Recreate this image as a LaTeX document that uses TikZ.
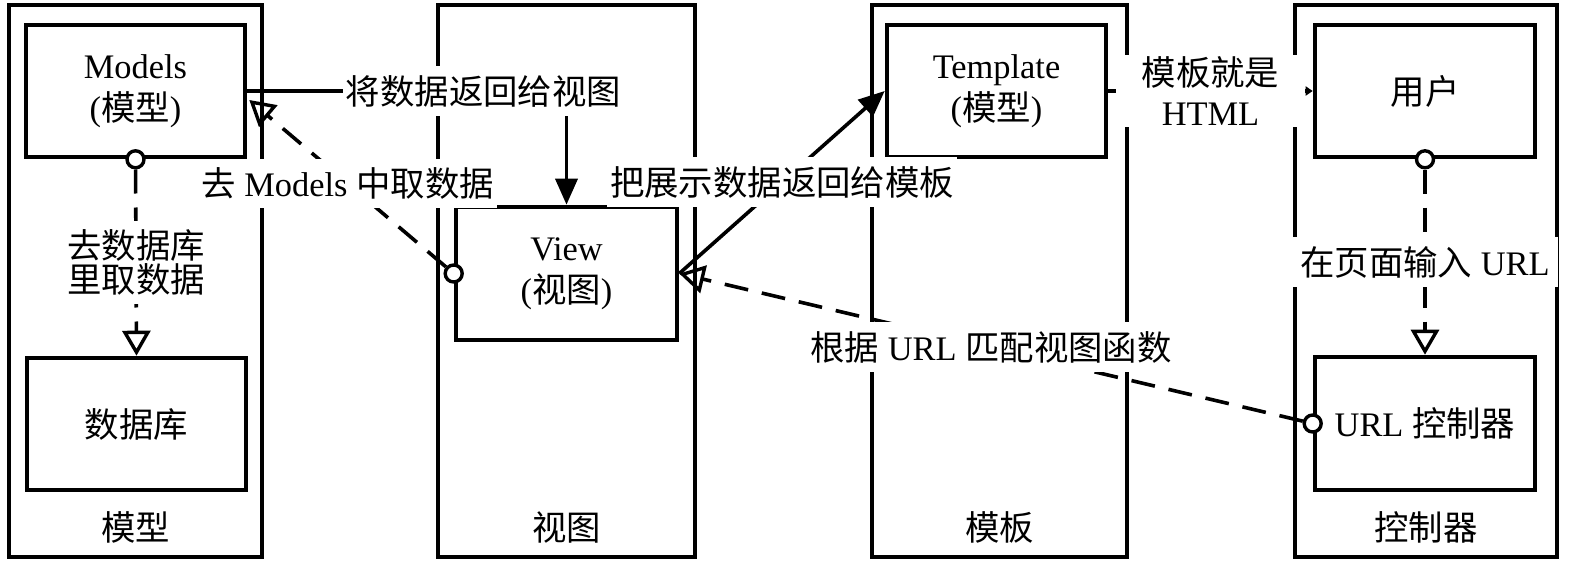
\documentclass[tikz,border=0pt]{standalone}
\usepackage{fontspec}
\setmainfont{Liberation Serif}
\newfontfamily\cjk{Noto Sans CJK SC}
\usetikzlibrary{arrows.meta,calc}
\newcommand{\zh}[1]{{\cjk #1}}
\newcommand{\fs}{\fontsize{17.2pt}{21pt}\selectfont}
\newcommand{\fstight}{\fontsize{17.2pt}{17pt}\selectfont}
\newcommand{\fsmid}{\fontsize{17.2pt}{20pt}\selectfont}
\begin{document}
\begin{tikzpicture}[x=0.5pt,y=-0.5pt,
  lane/.style={draw, line width=2.3pt, inner sep=0pt},
  box/.style={draw, line width=2.3pt, fill=white, inner sep=0pt, align=center, font=\fs},
  port/.style={circle, draw, line width=1.7pt, fill=white, minimum size=8.5pt, inner sep=0pt},
  conn/.style={line width=1.8pt},
  dconn/.style={conn, dash pattern=on 12pt off 7pt},
  lbl/.style={fill=white, inner xsep=1.5pt, inner ysep=4.5pt, align=center, font=\fs},
  filltip/.style={-{Triangle[length=13pt,width=11pt]}},
  opentip/.style={-{Triangle[open,length=12.5pt,width=14pt,line width=1.7pt]}},
  smalltip/.style={-{Triangle[length=3.5pt,width=4.5pt]}}
]
\useasboundingbox (0,0) rectangle (1575,562);
% lanes
\node[lane, minimum width=126.5pt, minimum height=276pt] (lm) at (135.5,281) {};
\node[lane, minimum width=128.5pt, minimum height=276pt] (lv) at (566.5,281) {};
\node[lane, minimum width=127.5pt, minimum height=276pt] (lt) at (999.5,281) {};
\node[lane, minimum width=131pt, minimum height=276pt] (lc) at (1426,281) {};
\node[font=\fs] (tm) at (135.5,527) {\zh{模型}};
\node[font=\fs] (tv) at (566.5,527) {\zh{视图}};
\node[font=\fs] (tt) at (999.5,527) {\zh{模板}};
\node[font=\fs] (tc) at (1426,527) {\zh{控制器}};
% boxes
\node[box, minimum width=109.5pt, minimum height=66pt] (models) at (135.5,91) {Models\\(\zh{模型})};
\node[box, minimum width=109.5pt, minimum height=66pt] (db) at (136.5,424) {\zh{数据库}};
\node[box, minimum width=110.5pt, minimum height=66.5pt] (view) at (566.5,273.5) {View\\(\zh{视图})};
\node[box, minimum width=109.5pt, minimum height=66pt] (template) at (996.5,91) {Template\\(\zh{模型})};
\node[box, minimum width=110pt, minimum height=66pt] (user) at (1425,91) {\zh{用户}};
\node[box, minimum width=110pt, minimum height=66.5pt] (url) at (1425,423.5) {URL \zh{控制器}};
% ports
\node[port] (pmod) at (models.south) {};
\node[port] (pview) at (view.west) {};
\node[port] (pusr) at (user.south) {};
\node[port] (purl) at (url.west) {};
% connectors
\draw[conn, filltip] (models.east) -| node[lbl, pos=0.37] (l1) {\zh{将数据返回给视图}} (view.north);
\draw[dconn, opentip] (pview) -- node[lbl] (l2) {\zh{去} Models \zh{中取数据}} ($(models.east)+(2,9)$);
\draw[conn, filltip] (view.east) -- node[lbl] (l3) {\zh{把展示数据返回给模板}} (template.west);
\draw[dconn, opentip] (purl) -- node[lbl] (l4) {\zh{根据} URL \zh{匹配视图函数}} (view.east);
\draw[dconn, smalltip] (template.east) -- node[lbl, inner xsep=13pt, inner ysep=1pt, font=\fsmid] (l5) {\zh{模板就是}\\HTML} (user.west);
\draw[dconn, opentip] (pmod) -- node[lbl, font=\fstight] (l6) {\zh{去数据库}\\\zh{里取数据}} (db.north);
\draw[dconn, opentip] (pusr) -- node[lbl, inner xsep=4pt] (l7) {\zh{在页面输入} URL} (url.north);
\end{tikzpicture}
\end{document}
